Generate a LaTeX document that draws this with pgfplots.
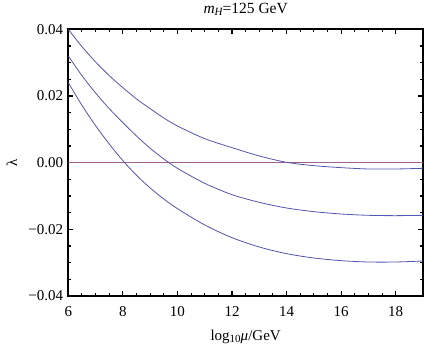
\documentclass[border=0pt]{standalone}
\usepackage{pgfplots}
\pgfplotsset{compat=1.18}
\usepackage{fontspec}
\setmainfont{Liberation Serif}
\definecolor{curveblue}{rgb}{0.33,0.33,0.70}
\definecolor{zeroline}{rgb}{0.64,0.38,0.54}
\begin{document}
\begin{tikzpicture}
\begin{axis}[
  scale only axis,
  width=354.7pt, height=266.7pt,
  xmin=6, xmax=19, ymin=-0.04, ymax=0.04,
  xtick={6,8,10,12,14,16,18},
  xticklabels={6,8,10,12,14,16,18},
  ytick={-0.04,-0.02,0,0.02,0.04},
  yticklabels={−0.04,−0.02,0.00,0.02,0.04},
  scaled y ticks=false,
  minor x tick num=3,
  minor y tick num=3,
  tick align=inside,
  major tick length=5pt,
  minor tick length=3pt,
  tick style={black, line width=1.1pt},
  axis line style={black, line width=1.6pt},
  ticklabel style={font=\fontsize{15}{18}\selectfont},
  xticklabel style={inner sep=0pt, anchor=base, yshift=-20pt},
  yticklabel style={inner sep=0pt, xshift=-5pt},
  label style={font=\fontsize{15}{18}\selectfont},
  title style={font=\fontsize{15.5}{18}\selectfont, at={(axis description cs:0.5,1.0)}, anchor=base, yshift=10pt, inner sep=0pt},
  title={{\itshape m}\raisebox{-0.35ex}{\fontsize{11}{12}\selectfont\itshape H}=125 GeV},
  xlabel={log\raisebox{-0.35ex}{\fontsize{11}{12}\selectfont 10}{\itshape μ}/GeV},
  ylabel={λ},
  xlabel style={at={(axis description cs:0.5,0)}, anchor=base, yshift=-44pt, inner sep=0pt},
  ylabel style={at={(axis description cs:-0.159,0.5)}, anchor=center, inner sep=0pt},
  clip=true,
]
\addplot[zeroline, line width=1.2pt] coordinates {(6,0) (19,0)};
\addplot[curveblue, line width=0.8pt, smooth] coordinates {
(6,0.0400) (6.5,0.0348) (7,0.0302) (7.5,0.0261) (8,0.0225) (8.5,0.0191)
(9,0.0162) (9.5,0.0134) (10,0.0110) (11,0.0072) (12,0.0045) (13,0.0020)
(14,0.0001) (15,-0.0009) (16,-0.0015) (17,-0.0019) (18,-0.0019) (19,-0.0017)};
\addplot[curveblue, line width=0.8pt, smooth] coordinates {
(6,0.0320) (6.5,0.0261) (7,0.0209) (7.5,0.0162) (8,0.0120) (8.5,0.0080)
(9,0.0043) (9.5,0.0011) (10,-0.0017) (11,-0.0062) (12,-0.0096) (13,-0.0119)
(14,-0.0136) (15,-0.0147) (16,-0.0154) (17,-0.0158) (18,-0.0159) (19,-0.0158)};
\addplot[curveblue, line width=0.8pt, smooth] coordinates {
(6,0.0240) (6.5,0.0172) (7,0.0111) (7.5,0.0056) (8,0.0006) (8.5,-0.0038)
(9,-0.0076) (9.5,-0.0109) (10,-0.0138) (11,-0.0187) (12,-0.0225) (13,-0.0253)
(14,-0.0273) (15,-0.0286) (16,-0.0294) (17,-0.0298) (18,-0.0298) (19,-0.0295)};
\end{axis}
\pgfresetboundingbox
\path (-68.3pt,-54pt) rectangle (356.7pt,296pt);
\end{tikzpicture}
\end{document}
